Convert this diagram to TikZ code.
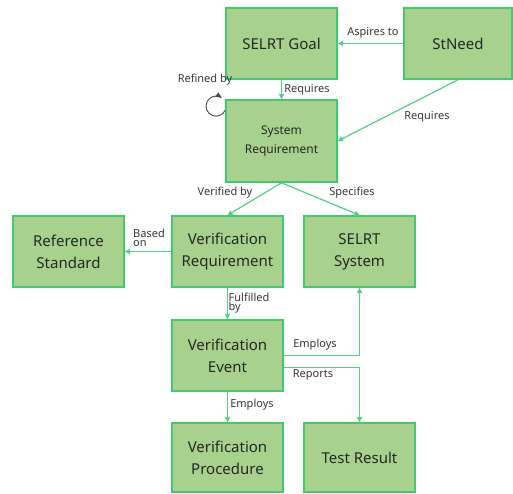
\documentclass[tikz,border=0pt]{standalone}
\usepackage{fontspec}
\setmainfont{Noto Sans}
\usetikzlibrary{arrows.meta}
\definecolor{boxfill}{HTML}{A9D18E}
\definecolor{boxline}{HTML}{3FCB6E}
\definecolor{connc}{HTML}{4FD387}
\begin{document}
\begin{tikzpicture}[x=1pt,y=-1pt,
 box/.style={draw=boxline, line width=1.6pt, fill=boxfill, minimum width=111pt, minimum height=71pt, align=center, inner sep=0pt, text=black!85, font=\fontsize{15}{22}\selectfont},
 conn/.style={draw=connc, line width=1.2pt, -{Triangle[length=5pt,width=5pt]}},
 lbl/.style={font=\fontsize{11}{12}\selectfont, text=black!78, inner sep=0pt},
 tight/.style={font=\fontsize{11}{9.5}\selectfont, text=black!78, inner sep=0pt, align=left}]
\useasboundingbox (0,0) rectangle (513,493);
\fill[white] (0,0) rectangle (513,493);

\node[box] (goal) at (281.5,43.5) {SELRT Goal};
\node[box, minimum width=108pt] (stneed) at (458,43.5) {StNeed};
\node[box, minimum height=82pt, font=\fontsize{12}{19}\selectfont] (sysreq) at (281.5,141) {System\\Requirement};
\node[box] (refstd) at (68.5,251.5) {Reference\\Standard};
\node[box] (verreq) at (227.5,251.5) {Verification\\Requirement};
\node[box] (selrt) at (359.5,251.5) {SELRT\\System};
\node[box] (ve) at (227.5,355.5) {Verification\\Event};
\node[box, minimum height=69pt] (vp) at (227.5,457.5) {Verification\\Procedure};
\node[box, minimum height=69pt] (tr) at (359.5,457.5) {Test Result};

\draw[conn] (stneed) -- (goal);
\draw[conn] (goal) -- (sysreq);
\draw[conn] (stneed.south) -- (sysreq.east);
\draw[conn] (sysreq.south) -- (verreq.north);
\draw[conn] (sysreq.south) -- (selrt.north);
\draw[conn] (verreq) -- (refstd);
\draw[conn] (verreq) -- (ve);
\draw[conn] (ve.east) -| (selrt.south);
\draw[conn] ([yshift=-12pt]ve.east) -| (tr.north);
\draw[conn] (ve) -- (vp);
\draw[draw=black!70, line width=0.9pt, -{Triangle[length=6pt,width=5pt]}]
  ([yshift=-11pt]sysreq.north west) arc[start angle=24, end angle=305, radius=10];

\node[lbl] (lref) at (205,80) {Refined by};
\node[lbl] (lreq1) at (307,90) {Requires};
\node[lbl] (lasp) at (373,33) {Aspires to};
\node[lbl] (lreq2) at (427,117) {Requires};
\node[lbl] (lver) at (225,193) {Verified by};
\node[lbl] (lspec) at (352,193) {Specifies};
\node[tight] (lbase) at (149,238) {Based\\on};
\node[tight] (lful) at (249,303) {Fulfilled\\by};
\node[lbl] (lemp1) at (315,345) {Employs};
\node[lbl] (lrep) at (313,375) {Reports};
\node[lbl] (lemp2) at (252,405) {Employs};
\end{tikzpicture}
\end{document}
